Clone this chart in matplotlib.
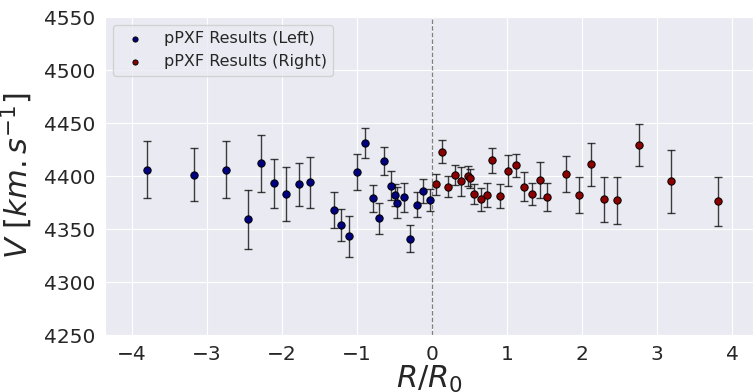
import matplotlib
matplotlib.use('Agg')
import matplotlib.pyplot as plt
import seaborn as sns

# left side (negative R/R0)
r_left = [-3.80, -3.17, -2.74, -2.45, -2.28, -2.11, -1.94, -1.77, -1.63,
          -1.31, -1.21, -1.10, -1.00, -0.89, -0.79, -0.71, -0.64, -0.54,
          -0.49, -0.46, -0.37, -0.29, -0.20, -0.12, -0.03]
v_left = [4406, 4401, 4406, 4359, 4412, 4393, 4383, 4392, 4394,
          4368, 4354, 4343, 4404, 4431, 4379, 4360, 4414, 4391,
          4382, 4375, 4380, 4341, 4373, 4386, 4377]
e_left = [27, 25, 27, 28, 27, 23, 25.5, 20, 24,
          17, 15, 19.5, 17, 14, 12.5, 14.5, 13, 13.5,
          10, 14.6, 13.7, 13, 12, 11, 10.4]

# right side (positive R/R0)
r_right = [0.05, 0.14, 0.22, 0.31, 0.39, 0.48, 0.51, 0.56, 0.65, 0.73,
           0.80, 0.91, 1.02, 1.12, 1.23, 1.33, 1.44, 1.54, 1.79, 1.96,
           2.12, 2.30, 2.47, 2.76, 3.19, 3.82]
v_right = [4392, 4423, 4390, 4401, 4395, 4400, 4398, 4383, 4378, 4382,
           4415, 4381, 4405, 4410, 4390, 4383, 4396, 4380, 4402, 4382,
           4411, 4378, 4377, 4429, 4395, 4376]
e_right = [10, 11, 9.6, 9.8, 13.7, 9.8, 9, 9.7, 10.8, 11.6,
           11.8, 11, 14.5, 10.8, 13.5, 10.2, 17, 13.2, 17, 17.3,
           20.6, 21.4, 22, 20, 30, 23]

sns.set_style('darkgrid')
plt.rcParams['font.family'] = ['DejaVu Sans']

fig = plt.figure(figsize=(7.53, 3.92), dpi=100)
ax = fig.add_axes([0.1394, 0.1454, 0.8606, 0.8112])

ax.axvline(0, color='gray', ls='--', lw=0.9, zorder=1)

ax.errorbar(r_left, v_left, yerr=e_left, fmt='none', ecolor='k',
            elinewidth=1, capsize=3, capthick=1, alpha=0.75, zorder=2)
ax.errorbar(r_right, v_right, yerr=e_right, fmt='none', ecolor='k',
            elinewidth=1, capsize=3, capthick=1, alpha=0.75, zorder=2)
ax.scatter(r_left, v_left, s=28, c='navy', edgecolors='k', linewidths=0.7,
           zorder=3, label='pPXF Results (Left)')
ax.scatter(r_right, v_right, s=28, c='darkred', edgecolors='k', linewidths=0.7,
           zorder=3, label='pPXF Results (Right)')

ax.set_xlim(-4.36, 4.28)
ax.set_ylim(4250, 4550)
ax.set_xticks([-4, -3, -2, -1, 0, 1, 2, 3, 4])
ax.tick_params(labelsize=14.5, colors='#262626')
ax.set_xlabel(r'$R/R_0$', fontsize=22, labelpad=0)
ax.set_ylabel(r'$V\ [km.s^{-1}]$', fontsize=22, labelpad=6)

ax.legend(loc='upper left', fontsize=11.5, markerscale=0.7, frameon=True)

fig.savefig('out.png', dpi=100)
